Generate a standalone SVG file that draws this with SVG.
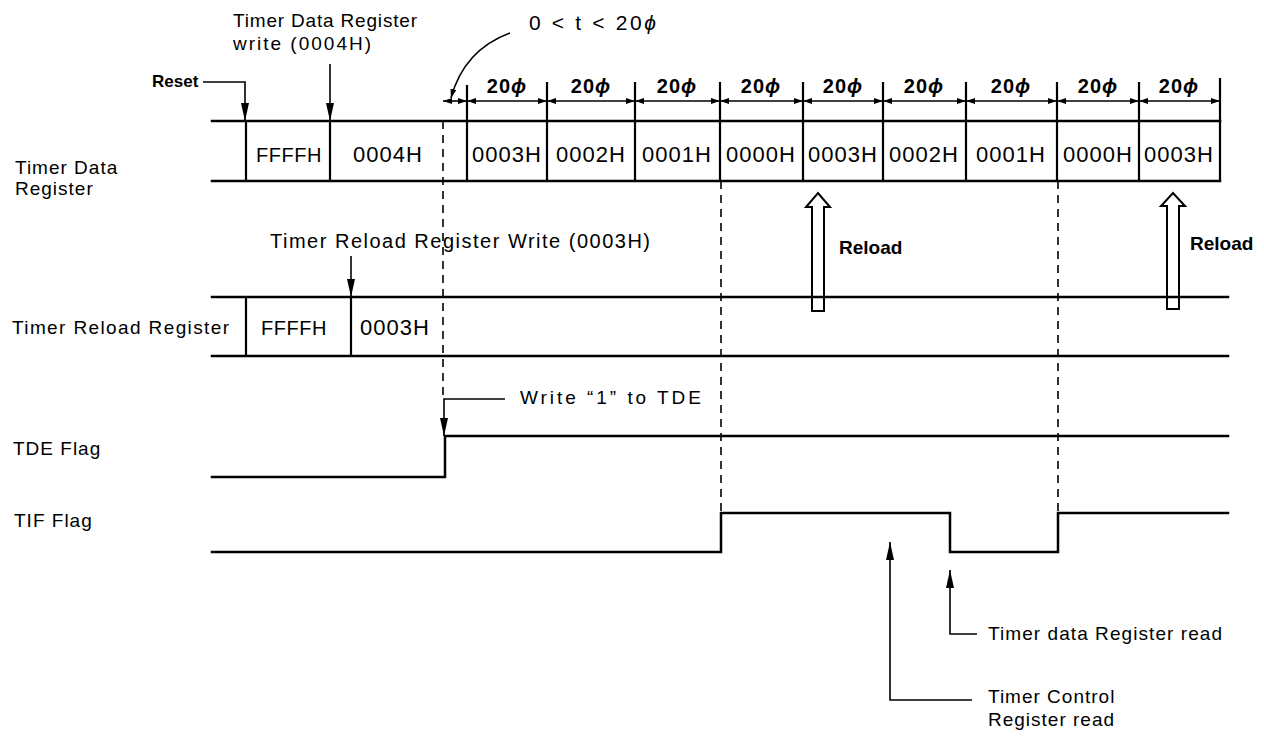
<svg xmlns="http://www.w3.org/2000/svg" width="1264" height="736" viewBox="0 0 1264 736">
<style>
  text { font-family: "Liberation Sans", Arial, sans-serif; font-size: 19px; letter-spacing: 1px; fill: #000; }
  .b { font-weight: bold; letter-spacing: 0; }
  .cell { font-size: 22px; letter-spacing: 1px; text-anchor: middle; }
  .ff { font-size: 20px; letter-spacing: 0.5px; }
  .dimt { font-size: 20px; font-weight: bold; text-anchor: middle; }
  .ln { stroke: #000; stroke-width: 2.5; fill: none; stroke-linecap: square; }
  .vl { stroke: #000; stroke-width: 2.2; fill: none; }
  .dash { stroke: #000; stroke-width: 1.6; fill: none; stroke-dasharray: 8 6; }
  .ldr { stroke: #000; stroke-width: 1.6; fill: none; }
  .dim { stroke: #000; stroke-width: 1.6; fill: none; marker-start: url(#dh); marker-end: url(#dh); }
  .hollow { stroke: #000; stroke-width: 2; fill: none; stroke-linejoin: miter; }
</style>
<defs>
  <marker id="ah" markerUnits="userSpaceOnUse" markerWidth="18" markerHeight="8" refX="18" refY="4" orient="auto">
    <path d="M0,0 L18,4 L0,8 Z" fill="#000"/>
  </marker>
  <marker id="dh" markerUnits="userSpaceOnUse" markerWidth="9" markerHeight="6" refX="9" refY="3" orient="auto-start-reverse">
    <path d="M0,0 L9,3 L0,6 Z" fill="#000"/>
  </marker>
</defs>

<!-- Timer Data Register row -->
<g id="timer-data-register">
  <text x="15" y="174">Timer Data</text>
  <text x="15" y="195">Register</text>
  <path class="ln" d="M212,121 H1220 M212,181 H1220"/>
  <path class="vl" d="M246,121 V181 M330,121 V181 M467,85 V181 M547,82 V181 M635,82 V181 M720,82 V181 M803,82 V181 M883,82 V181 M966,82 V181 M1057,82 V181 M1139,82 V181 M1220,78 V181"/>
  <text class="cell ff" x="289" y="162">FFFFH</text>
  <text class="cell" x="388" y="162">0004H</text>
  <text class="cell" x="507" y="162">0003H</text>
  <text class="cell" x="591" y="162">0002H</text>
  <text class="cell" x="677" y="162">0001H</text>
  <text class="cell" x="761" y="162">0000H</text>
  <text class="cell" x="843" y="162">0003H</text>
  <text class="cell" x="924" y="162">0002H</text>
  <text class="cell" x="1011" y="162">0001H</text>
  <text class="cell" x="1098" y="162">0000H</text>
  <text class="cell" x="1179" y="162">0003H</text>
</g>

<!-- 20phi time scale -->
<g id="time-scale">
  <path class="dim" d="M443,101 H467"/>
  <path class="dim" d="M467,101 H547"/>
  <path class="dim" d="M547,101 H635"/>
  <path class="dim" d="M635,101 H720"/>
  <path class="dim" d="M720,101 H803"/>
  <path class="dim" d="M803,101 H883"/>
  <path class="dim" d="M883,101 H966"/>
  <path class="dim" d="M966,101 H1057"/>
  <path class="dim" d="M1057,101 H1139"/>
  <path class="dim" d="M1139,101 H1220"/>
  <text class="dimt" x="507" y="93">20<tspan font-style="italic">ϕ</tspan></text>
  <text class="dimt" x="591" y="93">20<tspan font-style="italic">ϕ</tspan></text>
  <text class="dimt" x="677" y="93">20<tspan font-style="italic">ϕ</tspan></text>
  <text class="dimt" x="761" y="93">20<tspan font-style="italic">ϕ</tspan></text>
  <text class="dimt" x="843" y="93">20<tspan font-style="italic">ϕ</tspan></text>
  <text class="dimt" x="924" y="93">20<tspan font-style="italic">ϕ</tspan></text>
  <text class="dimt" x="1011" y="93">20<tspan font-style="italic">ϕ</tspan></text>
  <text class="dimt" x="1098" y="93">20<tspan font-style="italic">ϕ</tspan></text>
  <text class="dimt" x="1179" y="93">20<tspan font-style="italic">ϕ</tspan></text>
  <text x="529" y="30" style="font-size:21px" textLength="128">0 &lt; t &lt; 20<tspan font-style="italic">ϕ</tspan></text>
</g>

<!-- Timer Reload Register row -->
<g id="timer-reload-register">
  <text x="12" y="334" textLength="218">Timer Reload Register</text>
  <path class="ln" d="M212,297 H1228 M212,356 H1228"/>
  <path class="vl" d="M246,297 V356 M351,297 V356"/>
  <text class="cell ff" x="294" y="335">FFFFH</text>
  <text class="cell" x="395" y="335">0003H</text>
</g>

<!-- TDE Flag -->
<g id="tde-flag">
  <text x="13" y="455">TDE Flag</text>
  <path class="ln" d="M212,477 H445 V436 H1228"/>
</g>

<!-- TIF Flag -->
<g id="tif-flag">
  <text x="14" y="527">TIF Flag</text>
  <path class="ln" d="M212,552 H721 V513 H950 V552 H1058 V513 H1228"/>
</g>

<!-- Annotations -->
<g id="annotations">
  <text class="b" x="152" y="87" style="font-size:17px">Reset</text>
  <text x="233" y="27" textLength="185">Timer Data Register</text>
  <text x="233" y="50" textLength="139">write (0004H)</text>
  <text x="270" y="248" style="font-size:20px" textLength="381">Timer Reload Register Write (0003H)</text>
  <text class="b" x="839" y="254">Reload</text>
  <text class="b" x="1190" y="250">Reload</text>
  <text x="520" y="404" textLength="182">Write “1” to TDE</text>
  <text x="988" y="640" textLength="235">Timer data Register read</text>
  <text x="988" y="703">Timer Control</text>
  <text x="988" y="726">Register read</text>
</g>

<!-- Connectors -->
<g id="connectors">
  <path class="dash" d="M443,121 V399"/>
  <path class="dash" d="M721,181 V513"/>
  <path class="dash" d="M1058,181 V513"/>
  <path class="ldr" d="M203,82 H245 V121" marker-end="url(#ah)"/>
  <path class="ldr" d="M330,64 V121" marker-end="url(#ah)"/>
  <path class="ldr" d="M351,256 V297" marker-end="url(#ah)"/>
  <path class="ldr" d="M505,399 H444 V436" marker-end="url(#ah)"/>
  <path class="ldr" d="M510,33 Q464,50 451,98" marker-end="url(#dh)"/>
  <path class="ldr" d="M977,634 H950 V570" marker-end="url(#ah)"/>
  <path class="ldr" d="M972,700 H890 V542" marker-end="url(#ah)"/>
  <path class="hollow" d="M812,311 V207 H806 L818,193 L830,207 H824 V311 Z"/>
  <path class="hollow" d="M1167,309 V206 H1161 L1173,193 L1185,206 H1179 V309 Z"/>
</g>
</svg>
